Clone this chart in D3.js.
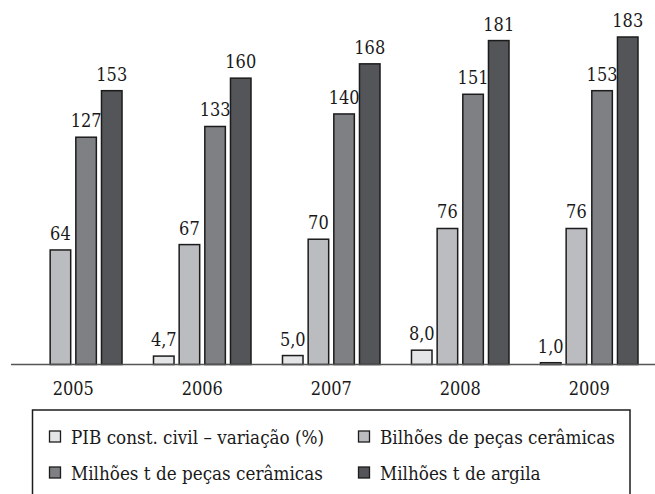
<!DOCTYPE html>
<html>
<head>
<meta charset="utf-8">
<script src="https://cdn.jsdelivr.net/npm/d3@7"></script>
<style>
  body { margin: 0; background: #fff; }
  svg text { font-stretch: condensed; }
</style>
</head>
<body>
<div id="chart"></div>
<script>
// data
const years = ['2005', '2006', '2007', '2008', '2009'];
const series = ['PIB const. civil – variação (%)', 'Bilhões de peças cerâmicas', 'Milhões t de peças cerâmicas', 'Milhões t de argila'];
const pib = [null, 4.7, 5.0, 8.0, 1.0];
const bilhoesPecas = [64, 67, 70, 76, 76];
const milhoesPecas = [127, 133, 140, 151, 153];
const milhoesArgila = [153, 160, 168, 181, 183];
const colors = ['#e4e5e7', '#bbbcc0', '#7f8084', '#545559'];

const values = [pib, bilhoesPecas, milhoesPecas, milhoesArgila];
const fmt = (v, s) => s === 0 ? v.toFixed(1).replace('.', ',') : String(v);
const serif = '"DejaVu Serif Condensed", "DejaVu Serif", serif';

const width = 655;
const height = 494;

const svg = d3.select('#chart')
  .append('svg')
  .attr('width', width)
  .attr('height', height)
  .style('display', 'block');

const x0 = d3.scaleBand()
  .domain(years)
  .range([24.5, 638])
  .paddingInner(0.244);

const x1 = d3.scaleBand()
  .domain(d3.range(series.length))
  .range([0, x0.bandwidth()])
  .paddingInner(0.2);

const y = d3.scaleLinear()
  .domain([0, 183])
  .range([364.5, 37]);

// flatten to one row per bar
const bars = [];
years.forEach((yr, i) => {
  values.forEach((arr, s) => {
    if (arr[i] != null) bars.push({year: yr, s: s, v: arr[i]});
  });
});

svg.append('g')
  .selectAll('rect')
  .data(bars)
  .enter().append('rect')
    .attr('x', d => x0(d.year) + x1(d.s))
    .attr('y', d => y(d.v))
    .attr('width', x1.bandwidth())
    .attr('height', d => y(0) - y(d.v))
    .style('fill', d => colors[d.s])
    .style('stroke', '#1c1c1c')
    .style('stroke-width', 1.5);

svg.append('g')
  .selectAll('text')
  .data(bars)
  .enter().append('text')
    .attr('x', d => x0(d.year) + x1(d.s) + x1.bandwidth() / 2)
    .attr('y', d => y(d.v) - 10)
    .attr('text-anchor', 'middle')
    .attr('font-family', serif)
    .attr('font-size', 18)
    .style('fill', '#1a1a1a')
    .text(d => fmt(d.v, d.s));

// baseline
svg.append('line')
  .attr('x1', 11)
  .attr('x2', width)
  .attr('y1', y(0))
  .attr('y2', y(0))
  .style('stroke', '#555')
  .style('stroke-width', 1.5);

// year labels
const xAxis = d3.axisBottom(x0).tickSize(0).tickPadding(0);
const gx = svg.append('g')
  .attr('transform', `translate(0,${y(0)})`)
  .call(xAxis)
  .attr('font-family', serif)
  .attr('font-size', 18);
gx.select('.domain').remove();
gx.selectAll('text')
  .attr('dy', null)
  .attr('y', 30.5)
  .style('fill', '#1a1a1a');

// legend
svg.append('rect')
  .attr('x', 32.5)
  .attr('y', 410)
  .attr('width', 597.5)
  .attr('height', 100)
  .style('fill', 'none')
  .style('stroke', '#1c1c1c')
  .style('stroke-width', 1.5);

const legendPos = [[49.5, 431], [358.5, 431], [49.5, 467], [358.5, 467]];

const lg = svg.append('g')
  .selectAll('g')
  .data(series)
  .enter().append('g')
    .attr('transform', (d, i) => `translate(${legendPos[i][0]},${legendPos[i][1]})`);

lg.append('rect')
  .attr('width', 11)
  .attr('height', 11)
  .style('fill', (d, i) => colors[i])
  .style('stroke', '#1c1c1c')
  .style('stroke-width', 1.3);

lg.append('text')
  .attr('x', 21.5)
  .attr('y', 12.5)
  .attr('font-family', serif)
  .attr('font-size', 18.7)
  .style('fill', '#1a1a1a')
  .text(d => d);
</script>
</body>
</html>
